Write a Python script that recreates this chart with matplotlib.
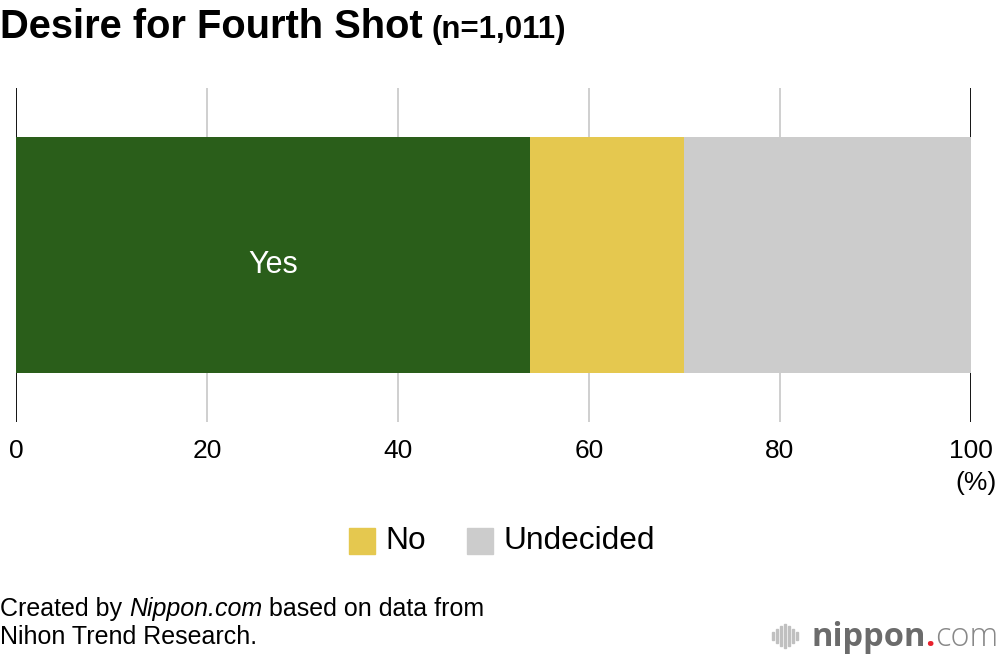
import matplotlib.pyplot as plt
from matplotlib.patches import Rectangle

plt.rcParams['font.family'] = ['Liberation Sans', 'DejaVu Sans']

categories = ['Yes', 'No', 'Undecided']
values = [53.8, 16.1, 30.1]
colors = ['#2a5e1a', '#e5c84f', '#cccccc']
ticks = [0, 20, 40, 60, 80, 100]

W, H = 1000, 658
fig = plt.figure(figsize=(10, 6.58), dpi=100)
ax = fig.add_axes([16 / W, 1 - 422 / H, 955 / W, 334 / H])

left = 0
for cat, val, col in zip(categories, values, colors):
    ax.barh(0, val, left=left, height=0.707, color=col, zorder=3)
    left += val

ax.text(values[0] / 2, -0.03, 'Yes', color='white', fontsize=22,
        ha='center', va='center', zorder=4)

ax.set_xlim(0, 100)
ax.set_ylim(-0.5, 0.5)
for t in ticks:
    if t in (0, 100):
        ax.axvline(t, color='black', lw=1.3, zorder=2)
    else:
        ax.axvline(t, color='#cccccc', lw=1.3, zorder=1)
for s in ax.spines.values():
    s.set_visible(False)
ax.set_yticks([])
ax.set_xticks(ticks)
ax.tick_params(axis='x', length=0, pad=12, labelsize=19)
fig.text(997 / W, 1 - 483 / H, '(%)', ha='right', va='center', fontsize=19)

# legend
leg_y = 1 - 541 / H
fig.patches.append(Rectangle((349 / W, leg_y - 13 / H), 26 / W, 26 / H,
                             transform=fig.transFigure, color=colors[1]))
fig.text(385 / W, leg_y, 'No', fontsize=22.8, va='center')
fig.patches.append(Rectangle((467 / W, leg_y - 13 / H), 26 / W, 26 / H,
                             transform=fig.transFigure, color=colors[2]))
fig.text(504 / W, leg_y, 'Undecided', fontsize=22.8, va='center')

# title
fig.canvas.draw()
r = fig.canvas.get_renderer()
t1 = fig.text(0.0, 1 - 38 / H, 'Desire for Fourth Shot', fontsize=28.7,
              fontweight='bold', va='baseline')
x = t1.get_window_extent(r).x1 / W + 0.009
fig.text(x, 1 - 38 / H, '(n=1,011)', fontsize=22.5, fontweight='bold',
         va='baseline')

# footer
def row(parts, x, y):
    for txt, style in parts:
        t = fig.text(x, y, txt, fontsize=18, style=style, va='baseline')
        x = t.get_window_extent(r).x1 / W

row([('Created by ', 'normal'), ('Nippon.com', 'italic'),
     (' based on data from', 'normal')], 0.0, 1 - 616 / H)
row([('Nihon Trend Research.', 'normal')], 0.0, 1 - 644 / H)

# logo
lx = 811 / W
ly = 1 - 646 / H
for i, h in enumerate([8, 14, 20, 24, 20, 14, 8]):
    fig.patches.append(Rectangle((772 / W + i * 4 / W, 1 - (636 + h / 2) / H),
                                 2 / W, h / H, transform=fig.transFigure,
                                 color='#c0c0c0'))
t = fig.text(lx, ly, 'nippon', fontsize=23.5, color='#6b6b6b', fontweight='bold',
             va='baseline', family='Open Sans')
x = t.get_window_extent(r).x1 / W
t = fig.text(x, ly, '.', fontsize=23.5, color='#e8212d', fontweight='bold',
             va='baseline', family='Open Sans')
x = t.get_window_extent(r).x1 / W
fig.text(x, ly, 'com', fontsize=23.5, color='#888888', va='baseline',
         family='Open Sans', fontweight='light')

fig.savefig('out.png', dpi=100)
